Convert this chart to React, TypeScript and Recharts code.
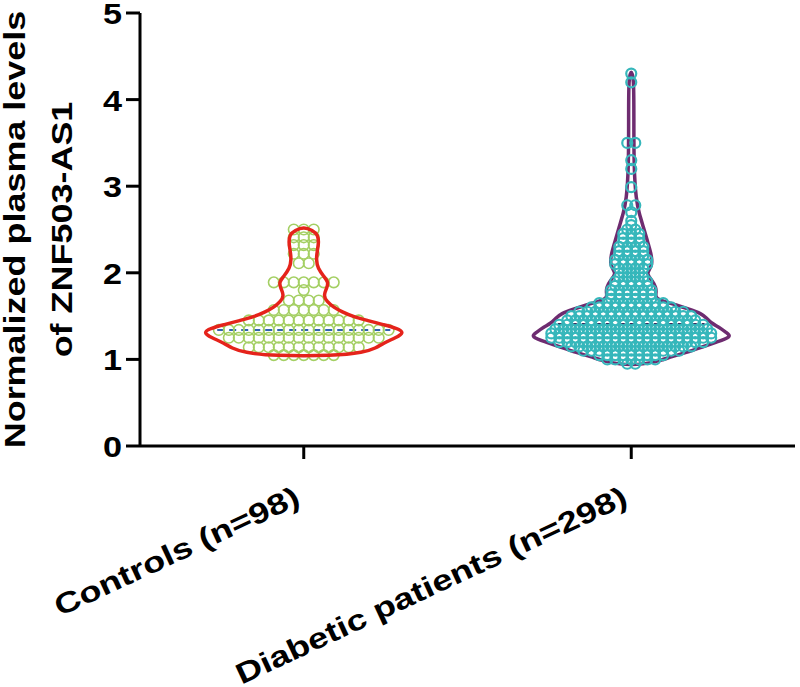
import React from 'react'
import { ScatterChart, Scatter, XAxis, YAxis } from 'recharts'

const categories = ['Controls (n=98)', 'Diabetic patients (n=298)']
const categoryCenters = [0.5, 1.5]
const yTicks = [0, 1, 2, 3, 4, 5]

// dot rows: level and how many dots sit on it
const controlLevels = [1.05, 1.14, 1.25, 1.34, 1.45, 1.57, 1.68, 1.8, 1.89, 2.11, 2.22, 2.32, 2.41, 2.5]
const controlCounts = [7, 12, 16, 18, 12, 7, 4, 1, 7, 2, 3, 3, 3, 3]

const diabeticLevels = [
  0.95, 1.0, 1.05, 1.1, 1.15, 1.2, 1.25, 1.3, 1.35, 1.4, 1.45, 1.5, 1.55, 1.6, 1.65, 1.7, 1.75, 1.8, 1.85, 1.9, 1.95,
  2.0, 2.05, 2.1, 2.15, 2.2, 2.25, 2.3, 2.35, 2.4, 2.45, 2.5, 2.55, 2.6, 2.7, 2.78, 2.99, 3.2, 3.3, 3.5, 4.2, 4.3,
]
const diabeticCounts = [
  2, 7, 9, 13, 16, 19, 21, 21, 20, 19, 17, 16, 14, 11, 9, 6, 6, 6, 5, 5, 4,
  3, 4, 5, 5, 4, 4, 4, 3, 3, 3, 2, 1, 1, 1, 2, 1, 1, 1, 2, 1, 1,
]

// violin outlines: level and half width (x-axis units)
const controlViolinY = [1.04, 1.08, 1.13, 1.19, 1.25, 1.31, 1.36, 1.4, 1.45, 1.49, 1.55, 1.6, 1.67, 1.74, 1.82, 1.89, 1.96, 2.05, 2.15, 2.25, 2.35, 2.44, 2.49, 2.53]
const controlViolinW = [0.092, 0.183, 0.22, 0.244, 0.281, 0.308, 0.284, 0.244, 0.195, 0.153, 0.116, 0.092, 0.07, 0.06, 0.07, 0.076, 0.061, 0.043, 0.038, 0.041, 0.046, 0.043, 0.027, 0]

const diabeticViolinY = [0.94, 0.99, 1.03, 1.08, 1.14, 1.2, 1.26, 1.31, 1.37, 1.42, 1.47, 1.53, 1.58, 1.63, 1.67, 1.71, 1.77, 1.83, 1.91, 1.99, 2.05, 2.11, 2.22, 2.37, 2.53, 2.69, 2.84, 3.2, 3.8, 4.25, 4.35]
const diabeticViolinW = [0.04, 0.092, 0.122, 0.168, 0.214, 0.26, 0.308, 0.29, 0.269, 0.244, 0.232, 0.214, 0.177, 0.137, 0.098, 0.073, 0.076, 0.076, 0.064, 0.046, 0.058, 0.064, 0.061, 0.049, 0.037, 0.024, 0.015, 0.008, 0.008, 0.008, 0]

const medians = [1.34, 1.41]

const RED = '#e5231b'
const GREEN = '#a4cf63'
const PURPLE = '#6e2c70'
const TEAL = '#36b7bb'
const FONT = '"Liberation Sans", Arial, sans-serif'

const dotRows = (center: number, levels: number[], counts: number[], gap: number) =>
  levels.flatMap((v, i) =>
    Array.from({ length: counts[i] }, (_, k) => ({ x: center + (k - (counts[i] - 1) / 2) * gap, y: v })),
  )

const outline = (center: number, ys: number[], ws: number[]) => [
  ...ys.map((y, i) => ({ x: center + ws[i], y })),
  ...ys.slice(0, -1).reverse().map((y, i) => ({ x: center - ws[ys.length - 2 - i], y })),
]

const widthAt = (ys: number[], ws: number[], v: number) => {
  for (let i = 1; i < ys.length; i++) {
    if (v <= ys[i]) return ws[i - 1] + ((ws[i] - ws[i - 1]) * (v - ys[i - 1])) / (ys[i] - ys[i - 1])
  }
  return 0
}

const medianLine = (center: number, ys: number[], ws: number[], m: number) => {
  const w = widthAt(ys, ws, m) * 0.9
  return [{ x: center - w, y: m }, { x: center + w, y: m }]
}

const controlDots = dotRows(categoryCenters[0], controlLevels, controlCounts, 0.0305)
const diabeticDots = dotRows(categoryCenters[1], diabeticLevels, diabeticCounts, 0.0244)
const controlOutline = outline(categoryCenters[0], controlViolinY, controlViolinW)
const diabeticOutline = outline(categoryCenters[1], diabeticViolinY, diabeticViolinW)
const controlMedian = medianLine(categoryCenters[0], controlViolinY, controlViolinW, medians[0])
const diabeticMedian = medianLine(categoryCenters[1], diabeticViolinY, diabeticViolinW, medians[1])

const YTick = ({ x, y, payload }: any) => (
  <text
    transform={`translate(${x - 2},${y + 11}) scale(1.18,1)`}
    textAnchor="end"
    fontFamily={FONT}
    fontWeight="bold"
    fontSize={29}
    fill="#000"
  >
    {payload.value}
  </text>
)

const XTick = ({ x, y, payload }: any) => {
  const idx = categoryCenters.indexOf(payload.value)
  return (
    <text
      transform={`translate(${x - 2},${y + 43}) rotate(-25) scale(1.25,1)`}
      textAnchor="end"
      fontFamily={FONT}
      fontWeight="bold"
      fontSize={29}
      fill="#000"
    >
      {categories[idx]}
    </text>
  )
}

const YLabel = ({ viewBox }: any) => {
  const cy = viewBox.y + viewBox.height / 2
  const common = { textAnchor: 'middle' as const, fontFamily: FONT, fontWeight: 'bold', fontSize: 29, fill: '#000' }
  return (
    <g>
      <text transform={`translate(${viewBox.x + 25},${cy}) rotate(-90) scale(1.24,1)`} {...common}>
        Normalized plasma levels
      </text>
      <text transform={`translate(${viewBox.x + 72},${cy}) rotate(-90) scale(1.24,1)`} {...common}>
        of ZNF503-AS1
      </text>
    </g>
  )
}

const ring = (color: string, width: number, r: number) => (p: any) => (
  <circle cx={p.cx} cy={p.cy} r={r} fill="none" stroke={color} strokeWidth={width} />
)

const noDot = () => <g />

export default function App() {
  const axisStyle = { stroke: '#000', strokeWidth: 3 }
  return (
    <div style={{ position: 'absolute', left: 0, top: 0, background: '#fff' }}>
      <ScatterChart width={800} height={687} margin={{ top: 13, right: 5, left: 0, bottom: 0 }}>
        <XAxis
          type="number"
          dataKey="x"
          domain={[0, 2]}
          ticks={categoryCenters}
          interval={0}
          height={241}
          axisLine={axisStyle}
          tickLine={axisStyle}
          tickSize={13}
          tick={XTick}
        />
        <YAxis
          type="number"
          dataKey="y"
          domain={[0, 5]}
          ticks={yTicks}
          interval={0}
          width={140}
          axisLine={axisStyle}
          tickLine={axisStyle}
          tickSize={14}
          tick={YTick}
          label={{ content: YLabel }}
        />
        <Scatter
          data={diabeticOutline}
          shape={noDot}
          line={{ stroke: PURPLE, strokeWidth: 3.5 }}
          lineType="joint"
          lineJointType="basisClosed"
          isAnimationActive={false}
        />
        <Scatter
          data={diabeticMedian}
          shape={noDot}
          line={{ stroke: '#3b2a5e', strokeWidth: 2, strokeDasharray: '7 5' }}
          lineType="joint"
          isAnimationActive={false}
        />
        <Scatter data={diabeticDots} shape={ring(TEAL, 2.2, 5)} isAnimationActive={false} />
        <Scatter
          data={controlMedian}
          shape={noDot}
          line={{ stroke: '#2f62b0', strokeWidth: 2, strokeDasharray: '7 5' }}
          lineType="joint"
          isAnimationActive={false}
        />
        <Scatter data={controlDots} shape={ring(GREEN, 1.6, 5.3)} isAnimationActive={false} />
        <Scatter
          data={controlOutline}
          shape={noDot}
          line={{ stroke: RED, strokeWidth: 3.5 }}
          lineType="joint"
          lineJointType="basisClosed"
          isAnimationActive={false}
        />
      </ScatterChart>
    </div>
  )
}
